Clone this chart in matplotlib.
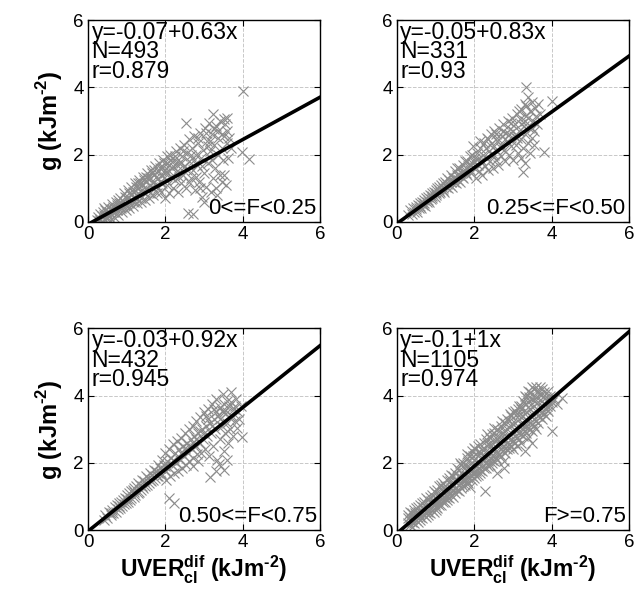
import matplotlib
matplotlib.use("Agg")
import matplotlib.pyplot as plt
import numpy as np

plt.rcParams['font.family'] = ['Liberation Sans', 'DejaVu Sans']
plt.rcParams['mathtext.fontset'] = 'custom'
plt.rcParams['mathtext.rm'] = 'Liberation Sans:bold'
plt.rcParams['mathtext.bf'] = 'Liberation Sans:bold'

# ---- data (x = UVER_cl^dif, y = g) ----
pts_f1 = [
    (0.22, 0.05), (0.25, 0.15), (0.28, 0.02), (0.3, 0.25), (0.32, 0.1), (0.35, 0.18), (0.38, 0.3), (0.4, 0.08),
    (0.42, 0.22), (0.45, 0.35), (0.47, 0.12), (0.5, 0.28), (0.52, 0.45), (0.55, 0.18), (0.57, 0.38), (0.6, 0.25),
    (0.62, 0.52), (0.65, 0.3), (0.67, 0.15), (0.7, 0.45), (0.72, 0.6), (0.75, 0.35), (0.77, 0.22), (0.8, 0.55),
    (0.82, 0.72), (0.85, 0.4), (0.87, 0.3), (0.9, 0.62), (0.92, 0.85), (0.95, 0.5), (0.97, 0.35), (1.0, 0.7),
    (1.02, 0.95), (1.05, 0.55), (1.07, 0.42), (1.1, 0.8), (1.12, 1.05), (1.15, 0.62), (1.17, 0.48), (1.2, 0.9),
    (1.22, 1.15), (1.25, 0.7), (1.27, 0.55), (1.3, 1.0), (1.32, 1.25), (1.35, 0.8), (1.37, 0.6), (1.4, 1.1),
    (1.42, 1.35), (1.45, 0.9), (1.47, 0.65), (1.5, 1.2), (1.52, 1.45), (1.55, 0.95), (1.57, 0.72), (1.6, 1.3),
    (1.62, 1.55), (1.65, 1.05), (1.67, 0.8), (1.7, 1.4), (1.72, 1.65), (1.75, 1.1), (1.78, 0.85), (1.8, 1.5),
    (1.83, 1.75), (1.85, 1.2), (1.88, 0.9), (1.9, 1.6), (1.93, 1.85), (1.95, 1.3), (1.98, 0.7), (2.0, 1.45),
    (2.03, 1.95), (2.05, 1.1), (2.08, 1.7), (2.1, 0.85), (2.13, 2.0), (2.15, 1.35), (2.18, 1.6), (2.2, 1.0),
    (2.23, 1.85), (2.25, 1.25), (2.28, 2.1), (2.3, 1.5), (2.33, 0.9), (2.35, 1.75), (2.38, 2.2), (2.4, 1.15),
    (2.43, 1.95), (2.45, 1.4), (2.48, 2.3), (2.5, 1.65), (2.52, 1.0), (2.55, 2.05), (2.57, 0.28), (2.6, 1.8),
    (2.62, 2.45), (2.65, 1.3), (2.68, 2.2), (2.7, 0.25), (2.72, 1.55), (2.75, 2.55), (2.77, 0.95), (2.8, 2.0),
    (2.82, 1.7), (2.85, 2.35), (2.87, 1.2), (2.9, 2.65), (2.92, 1.9), (2.95, 0.75), (2.97, 2.15), (3.0, 1.45),
    (3.02, 2.8), (3.05, 1.05), (3.07, 2.4), (3.1, 1.75), (3.12, 2.95), (3.15, 2.1), (3.17, 0.9), (3.2, 2.6),
    (3.22, 1.3), (3.24, 3.2), (3.25, 2.3), (3.28, 1.6), (3.3, 2.85), (3.32, 0.8), (3.35, 2.0), (3.37, 2.7),
    (3.4, 1.4), (3.42, 3.0), (3.45, 2.2), (3.48, 1.85), (3.5, 2.55), (3.52, 1.4), (3.55, 2.9), (3.56, 1.1),
    (3.58, 2.35), (3.6, 2.7), (3.62, 1.9), (3.65, 2.5), (3.7, 2.2), (2.53, 2.93), (4.01, 3.9), (4.15, 1.86),
    (3.97, 2.09), (3.3, 1.0), (3.45, 1.2), (3.0, 0.6), (2.9, 1.0),
    (0.3, 0.05), (0.45, 0.05), (0.6, 0.1), (0.55, 0.3), (0.7, 0.3), (0.85, 0.55), (1.0, 0.5), (1.1, 0.65),
    (1.2, 0.75), (1.3, 0.85), (1.4, 0.95), (1.5, 1.0), (1.6, 1.1), (1.7, 1.2), (1.8, 1.3), (1.9, 1.4),
    (2.0, 1.55), (2.1, 1.5), (2.2, 1.65), (2.3, 1.7), (2.4, 1.75), (1.25, 1.05), (1.45, 1.25), (1.65, 1.45),
    (1.85, 1.6), (2.05, 1.75), (0.95, 0.75), (0.65, 0.45), (0.75, 0.5), (1.15, 0.9), (1.35, 1.15), (1.55, 1.3),
    (1.75, 1.35), (1.95, 1.75), (2.25, 1.95), (2.45, 2.1), (2.65, 2.0), (2.85, 2.5), (3.05, 2.65), (3.15, 2.4),
    (3.35, 2.5), (3.25, 2.75), (3.5, 3.05), (3.45, 2.6), (3.6, 3.1),
    (0.4, 0.4), (0.5, 0.15), (0.62, 0.38), (0.78, 0.65), (0.9, 0.45), (1.05, 0.85), (1.18, 0.6), (1.28, 1.15),
    (1.38, 0.72), (1.5, 1.35), (1.6, 0.85), (1.7, 1.55), (1.82, 1.0), (1.92, 1.15), (2.02, 1.25), (2.12, 1.85),
    (2.35, 1.35), (2.55, 1.55), (2.75, 1.85), (2.95, 1.65), (3.1, 2.25), (2.6, 1.2), (2.8, 1.35), (3.2, 1.85),
]

pts_f2 = [
    (0.3, 0.2), (0.35, 0.35), (0.4, 0.25), (0.42, 0.4), (0.45, 0.3), (0.5, 0.45), (0.52, 0.3), (0.55, 0.5),
    (0.58, 0.4), (0.6, 0.55), (0.62, 0.42), (0.65, 0.6), (0.68, 0.5), (0.7, 0.65), (0.72, 0.48), (0.75, 0.7),
    (0.78, 0.58), (0.8, 0.75), (0.82, 0.6), (0.85, 0.8), (0.88, 0.68), (0.9, 0.85), (0.92, 0.7), (0.95, 0.9),
    (0.98, 0.75), (1.0, 0.95), (1.02, 0.8), (1.05, 1.0), (1.08, 0.85), (1.1, 1.05), (1.12, 0.88), (1.15, 1.1),
    (1.18, 0.95), (1.2, 1.15), (1.22, 0.9), (1.25, 1.2), (1.28, 1.05), (1.3, 1.3), (1.32, 1.0), (1.35, 1.25),
    (1.38, 1.1), (1.4, 1.4), (1.42, 1.05), (1.45, 1.3), (1.48, 1.2), (1.5, 1.5), (1.52, 1.15), (1.55, 1.4),
    (1.58, 1.25), (1.6, 1.6), (1.62, 1.2), (1.65, 1.45), (1.68, 1.35), (1.7, 1.7), (1.72, 1.3), (1.75, 1.55),
    (1.78, 1.45), (1.8, 1.8), (1.82, 1.4), (1.85, 1.65), (1.88, 1.55), (1.9, 1.95), (1.92, 1.45), (1.95, 1.75),
    (1.97, 2.25), (2.0, 1.6), (2.02, 1.9), (2.05, 1.3), (2.08, 2.05), (2.1, 1.7), (2.12, 1.5), (2.15, 2.2),
    (2.18, 1.85), (2.2, 1.4), (2.22, 2.0), (2.25, 2.35), (2.28, 1.65), (2.3, 1.9), (2.32, 2.5), (2.35, 1.55),
    (2.38, 2.1), (2.4, 1.8), (2.42, 2.6), (2.45, 2.0), (2.48, 1.6), (2.5, 2.25), (2.52, 2.7), (2.55, 1.85),
    (2.58, 2.4), (2.6, 2.1), (2.62, 1.7), (2.65, 2.8), (2.68, 2.3), (2.7, 1.95), (2.72, 2.55), (2.75, 2.9),
    (2.78, 2.15), (2.8, 1.8), (2.82, 2.65), (2.85, 2.4), (2.88, 3.0), (2.9, 2.0), (2.92, 2.75), (2.95, 2.25),
    (2.98, 3.1), (3.0, 1.85), (3.02, 2.55), (3.05, 2.9), (3.08, 2.3), (3.1, 3.2), (3.12, 2.05), (3.15, 2.7),
    (3.18, 3.05), (3.2, 2.45), (3.22, 3.35), (3.25, 2.2), (3.27, 1.47), (3.28, 2.85), (3.3, 3.5), (3.32, 2.6),
    (3.34, 4.0), (3.35, 3.15), (3.38, 2.35), (3.4, 3.7), (3.42, 2.8), (3.45, 3.3), (3.48, 2.5), (3.5, 3.55),
    (3.52, 3.0), (3.55, 2.7), (3.58, 3.4), (3.6, 3.15), (3.62, 2.9), (3.65, 3.5), (3.7, 3.2), (4.0, 3.6),
    (3.81, 2.07), (3.3, 1.75), (3.2, 1.9), (3.45, 2.05), (3.55, 2.3),
    (0.5, 0.38), (0.6, 0.48), (0.7, 0.56), (0.8, 0.66), (0.9, 0.76), (1.0, 0.85), (1.1, 0.95), (1.2, 1.02),
    (1.3, 1.12), (1.4, 1.2), (1.5, 1.3), (1.6, 1.38), (1.7, 1.5), (1.8, 1.58), (1.9, 1.7), (2.0, 1.78),
    (2.1, 1.88), (2.2, 1.75), (2.3, 2.2), (2.4, 2.3), (2.5, 2.0), (2.6, 2.5), (2.7, 2.2), (2.8, 2.45),
    (2.9, 2.6), (3.0, 2.7), (3.1, 2.5), (3.2, 2.9), (3.3, 3.0), (3.4, 3.1), (3.5, 2.8), (1.55, 1.6),
    (1.75, 1.8), (1.95, 2.0), (2.15, 2.4), (2.35, 2.45), (2.55, 2.6), (2.75, 2.7), (2.95, 2.95), (3.15, 3.3),
    (3.35, 3.45),
]

pts_f3 = [
    (0.4, 0.3), (0.45, 0.45), (0.5, 0.35), (0.55, 0.55), (0.6, 0.45), (0.62, 0.6), (0.65, 0.5), (0.7, 0.7),
    (0.72, 0.55), (0.75, 0.75), (0.78, 0.62), (0.8, 0.8), (0.82, 0.65), (0.85, 0.85), (0.88, 0.72), (0.9, 0.9),
    (0.92, 0.78), (0.95, 0.95), (0.98, 0.8), (1.0, 1.05), (1.02, 0.85), (1.05, 1.1), (1.08, 0.9), (1.1, 1.15),
    (1.12, 0.95), (1.15, 1.2), (1.18, 1.0), (1.2, 1.25), (1.22, 1.05), (1.25, 1.3), (1.28, 1.1), (1.3, 1.4),
    (1.32, 1.12), (1.35, 1.35), (1.38, 1.2), (1.4, 1.5), (1.42, 1.25), (1.45, 1.45), (1.48, 1.3), (1.5, 1.6),
    (1.52, 1.35), (1.55, 1.55), (1.58, 1.4), (1.6, 1.7), (1.62, 1.45), (1.65, 1.65), (1.68, 1.5), (1.7, 1.8),
    (1.72, 1.55), (1.75, 1.75), (1.78, 1.6), (1.8, 1.95), (1.82, 1.6), (1.85, 1.85), (1.88, 1.7), (1.9, 2.1),
    (1.92, 1.65), (1.95, 1.95), (1.98, 1.8), (2.0, 2.3), (2.02, 1.5), (2.05, 2.05), (2.08, 1.85), (2.09, 0.97),
    (2.1, 2.4), (2.12, 1.6), (2.15, 2.15), (2.18, 1.95), (2.2, 2.55), (2.22, 0.82), (2.23, 1.7), (2.25, 2.3),
    (2.28, 2.0), (2.3, 2.65), (2.32, 1.75), (2.35, 2.4), (2.38, 2.1), (2.4, 2.75), (2.42, 1.85), (2.45, 2.5),
    (2.48, 2.2), (2.5, 2.9), (2.52, 1.95), (2.55, 2.6), (2.58, 2.3), (2.6, 3.0), (2.62, 2.05), (2.65, 2.7),
    (2.68, 2.4), (2.7, 3.1), (2.72, 2.15), (2.75, 2.8), (2.78, 2.5), (2.8, 3.25), (2.82, 2.25), (2.85, 2.9),
    (2.88, 2.6), (2.9, 3.35), (2.92, 2.3), (2.95, 3.0), (2.98, 2.7), (3.0, 3.5), (3.02, 2.4), (3.05, 3.1),
    (3.08, 2.8), (3.1, 3.6), (3.12, 2.2), (3.15, 3.2), (3.16, 1.57), (3.18, 2.9), (3.2, 3.75), (3.22, 2.5),
    (3.25, 3.3), (3.28, 3.0), (3.3, 3.9), (3.32, 2.1), (3.35, 3.4), (3.38, 1.97), (3.4, 2.7), (3.42, 3.65),
    (3.45, 3.1), (3.48, 4.05), (3.5, 2.35), (3.52, 3.5), (3.55, 2.9), (3.58, 3.85), (3.6, 3.2), (3.62, 2.6),
    (3.65, 3.7), (3.68, 3.0), (3.7, 4.1), (3.72, 3.4), (3.75, 2.8), (3.78, 3.6), (3.8, 3.25), (3.82, 3.9),
    (3.85, 3.05), (3.88, 3.5), (3.9, 3.3), (3.97, 2.77), (3.95, 3.7), (3.5, 1.8), (3.3, 1.75), (3.6, 2.1),
    (2.7, 1.9), (2.85, 2.05),
    (0.6, 0.52), (0.8, 0.72), (1.0, 0.92), (1.2, 1.12), (1.4, 1.3), (1.6, 1.5), (1.8, 1.7), (2.0, 1.9),
    (2.2, 2.1), (2.4, 2.3), (2.6, 2.5), (2.8, 2.7), (3.0, 2.9), (3.2, 3.1), (3.4, 3.3), (3.6, 3.5),
    (3.8, 3.7), (2.5, 2.45), (2.7, 2.6), (2.9, 2.95), (3.1, 3.3), (3.3, 3.5), (3.5, 3.75), (3.7, 3.8),
    (3.65, 3.35), (3.45, 3.55), (3.25, 3.6), (3.05, 3.4),
]

pts_f4 = [
    (0.30, 0.20), (0.30, 0.45), (0.30, 0.35), (0.35, 0.15), (0.35, 0.40), (0.35, 0.55), (0.40, 0.25), (0.40, 0.50),
    (0.40, 0.10), (0.45, 0.35), (0.45, 0.60), (0.45, 0.20), (0.50, 0.30), (0.50, 0.65), (0.50, 0.45), (0.55, 0.25),
    (0.55, 0.55), (0.55, 0.70), (0.60, 0.40), (0.60, 0.75), (0.60, 0.30), (0.65, 0.50), (0.65, 0.35), (0.65, 0.80),
    (0.70, 0.45), (0.70, 0.85), (0.70, 0.60), (0.75, 0.40), (0.75, 0.70), (0.75, 0.95), (0.80, 0.55), (0.80, 0.90),
    (0.80, 0.45), (0.85, 0.65), (0.85, 1.00), (0.85, 0.50), (0.90, 0.60), (0.90, 1.05), (0.90, 0.80), (0.95, 0.55),
    (0.95, 0.85), (0.95, 1.15), (1.00, 0.70), (1.00, 1.10), (1.00, 0.95), (1.00, 0.60), (1.05, 0.80), (1.05, 1.20),
    (1.05, 0.65), (1.10, 0.75), (1.10, 1.05), (1.10, 1.30), (1.15, 0.90), (1.15, 1.35), (1.15, 0.75), (1.20, 0.85),
    (1.20, 1.15), (1.20, 1.40), (1.20, 1.00), (1.25, 0.95), (1.25, 1.30), (1.25, 0.85), (1.30, 1.00), (1.30, 1.50),
    (1.30, 1.20), (1.30, 0.90), (1.35, 1.10), (1.35, 1.55), (1.35, 0.95), (1.40, 1.05), (1.40, 1.35), (1.40, 1.65),
    (1.40, 1.25), (1.45, 1.15), (1.45, 1.60), (1.45, 1.00), (1.50, 1.25), (1.50, 1.70), (1.50, 1.45), (1.50, 1.10),
    (1.55, 1.20), (1.55, 1.50), (1.55, 1.85), (1.60, 1.35), (1.60, 1.80), (1.60, 1.15), (1.60, 1.60), (1.65, 1.40),
    (1.65, 1.95), (1.65, 1.25), (1.70, 1.30), (1.70, 1.65), (1.70, 2.00), (1.70, 1.50), (1.75, 1.50), (1.75, 1.85),
    (1.75, 1.35), (1.80, 1.45), (1.80, 1.75), (1.80, 2.15), (1.80, 1.60), (1.85, 1.55), (1.85, 2.05), (1.85, 1.40),
    (1.90, 1.27), (1.90, 1.65), (1.90, 2.20), (1.90, 1.85), (1.95, 1.60), (1.95, 2.00), (1.95, 1.50), (1.95, 2.35),
    (2.00, 1.70), (2.00, 2.10), (2.00, 1.55), (2.00, 2.45), (2.05, 1.75), (2.05, 2.25), (2.05, 1.60), (2.10, 1.65),
    (2.10, 2.00), (2.10, 2.50), (2.10, 1.85), (2.15, 1.80), (2.15, 2.30), (2.15, 1.70), (2.15, 2.55), (2.20, 1.90),
    (2.20, 2.40), (2.20, 1.75), (2.20, 2.15), (2.25, 1.85), (2.25, 2.60), (2.25, 2.10), (2.29, 1.17), (2.30, 2.00),
    (2.30, 2.35), (2.30, 1.85), (2.30, 2.70), (2.35, 2.05), (2.35, 2.55), (2.35, 1.90), (2.40, 1.95), (2.40, 2.30),
    (2.40, 2.75), (2.40, 2.15), (2.45, 2.10), (2.45, 2.60), (2.45, 2.00), (2.45, 2.85), (2.50, 2.20), (2.50, 2.45),
    (2.50, 2.05), (2.50, 2.90), (2.55, 2.15), (2.55, 2.65), (2.55, 2.35), (2.60, 2.30), (2.60, 2.80), (2.60, 2.10),
    (2.60, 3.00), (2.65, 2.25), (2.65, 2.55), (2.65, 2.95), (2.70, 2.40), (2.70, 2.75), (2.70, 2.20), (2.70, 3.10),
    (2.76, 1.86), (2.76, 2.05), (2.75, 2.50), (2.75, 2.90), (2.75, 2.35), (2.80, 2.45), (2.80, 2.70), (2.80, 3.20),
    (2.80, 2.30), (2.85, 2.60), (2.85, 3.00), (2.85, 2.40), (2.85, 3.30), (2.90, 2.55), (2.90, 2.85), (2.90, 3.25),
    (2.90, 2.45), (2.95, 2.70), (2.95, 3.10), (2.95, 2.50), (2.95, 3.40), (3.00, 2.65), (3.00, 2.95), (3.00, 3.50),
    (3.00, 2.40), (3.05, 2.80), (3.05, 3.20), (3.05, 2.60), (3.05, 3.55), (3.10, 2.75), (3.10, 3.05), (3.10, 3.45),
    (3.10, 2.50), (3.15, 2.90), (3.15, 3.30), (3.15, 2.70), (3.15, 3.70), (3.20, 2.85), (3.20, 3.15), (3.20, 3.60),
    (3.20, 2.60), (3.25, 3.00), (3.25, 3.40), (3.25, 2.80), (3.25, 3.85), (3.30, 2.95), (3.30, 3.25), (3.30, 3.75),
    (3.30, 2.36), (3.30, 4.00), (3.35, 3.10), (3.35, 3.50), (3.35, 2.90), (3.35, 3.95), (3.40, 3.05), (3.40, 3.35),
    (3.40, 3.80), (3.40, 4.15), (3.40, 2.75), (3.45, 3.20), (3.45, 3.60), (3.45, 3.00), (3.45, 4.10), (3.50, 3.15),
    (3.50, 3.45), (3.50, 3.90), (3.50, 4.25), (3.50, 2.95), (3.55, 3.30), (3.55, 3.70), (3.55, 3.10), (3.55, 4.20),
    (3.60, 3.25), (3.60, 3.55), (3.60, 3.95), (3.60, 4.25), (3.60, 3.00), (3.65, 3.40), (3.65, 3.80), (3.65, 3.20),
    (3.65, 4.15), (3.70, 3.35), (3.70, 3.65), (3.70, 4.05), (3.70, 4.25), (3.75, 3.50), (3.75, 3.85), (3.75, 3.30),
    (3.75, 4.20), (3.80, 3.45), (3.80, 3.75), (3.80, 4.10), (3.85, 3.60), (3.85, 3.95), (3.85, 3.40), (3.90, 3.55),
    (3.90, 3.85), (3.90, 4.15), (3.95, 3.70), (3.95, 4.00), (4.00, 2.95), (4.00, 3.80), (4.05, 3.90), (4.26, 3.94),
    (4.15, 3.75), (3.50, 2.60), (2.60, 1.70),
    (0.38, 0.32), (0.48, 0.52), (0.58, 0.48), (0.68, 0.70), (0.78, 0.58), (0.88, 0.88), (0.98, 0.78), (1.08, 0.95),
    (1.18, 1.25), (1.28, 1.08), (1.38, 1.45), (1.48, 1.35), (1.58, 1.62), (1.68, 1.55), (1.78, 1.95), (1.88, 1.75),
    (1.98, 2.20), (2.08, 1.92), (2.18, 2.30), (2.28, 2.20), (2.38, 2.55), (2.48, 2.35), (2.58, 2.70), (2.68, 2.60),
    (2.78, 2.95), (2.88, 2.75), (2.98, 3.20), (3.08, 2.95), (3.18, 3.45), (3.28, 3.10), (3.38, 3.65), (3.48, 3.35),
    (3.58, 3.85), (3.68, 3.55), (3.78, 3.95), (3.88, 3.70), (3.98, 3.85), (3.62, 4.10), (3.42, 3.95), (3.22, 3.70),
    (2.32, 2.85), (2.52, 3.05), (2.72, 3.25), (2.92, 3.45), (3.12, 3.60), (1.62, 2.00), (1.82, 2.25), (2.02, 2.40),
]

panel_points = [pts_f1, pts_f2, pts_f3, pts_f4]
intercepts = [-0.07, -0.05, -0.03, -0.1]
slopes = [0.63, 0.83, 0.92, 1.0]
fit_labels = ["y=-0.07+0.63x", "y=-0.05+0.83x", "y=-0.03+0.92x", "y=-0.1+1x"]
n_labels = ["N=493", "N=331", "N=432", "N=1105"]
r_labels = ["r=0.879", "r=0.93", "r=0.945", "r=0.974"]
class_labels = ["0<=F<0.25", "0.25<=F<0.50", "0.50<=F<0.75", "F>=0.75"]
ticks = [0, 2, 4, 6]

fig = plt.figure(figsize=(6.38, 6.08), dpi=100)
positions = [
    [0.138, 0.635, 0.364, 0.332],
    [0.622, 0.635, 0.364, 0.332],
    [0.138, 0.128, 0.364, 0.332],
    [0.622, 0.128, 0.364, 0.332],
]

xlab = r'$\mathrm{UVER_{cl}^{dif}}$ (kJm$^{\text{-}2}$)'
ylab = r'g (kJm$^{\text{-}2}$)'

for i, pos in enumerate(positions):
    ax = fig.add_axes(pos)
    xs = np.array([p[0] for p in panel_points[i]])
    ys = np.array([p[1] for p in panel_points[i]])
    ax.plot(xs, ys, linestyle='none', marker='x', markersize=7.3,
            markeredgewidth=0.8, color='#8c8c8c')
    xl = np.array([0, 6])
    ax.plot(xl, intercepts[i] + slopes[i] * xl, color='black', linewidth=2.6)

    ax.set_xlim(0, 6)
    ax.set_ylim(0, 6)
    ax.set_xticks(ticks)
    ax.set_yticks(ticks)
    ax.tick_params(direction='in', labelsize=13.5, length=4, top=True, right=True,
                   pad=3)
    ax.grid(True, linestyle='--', color='#c8c8c8', linewidth=0.7)
    for s in ax.spines.values():
        s.set_linewidth(1.0)

    ax.text(0.015, 0.995, fit_labels[i] + "\n" + n_labels[i] + "\n" + r_labels[i],
            transform=ax.transAxes, ha='left', va='top', fontsize=16.5,
            linespacing=0.8)
    ax.text(0.985, 0.015, class_labels[i], transform=ax.transAxes,
            ha='right', va='bottom', fontsize=16)

    if i % 2 == 0:
        ax.set_ylabel(ylab, fontsize=17, fontweight='bold', labelpad=6)
    if i >= 2:
        ax.set_xlabel(xlab, fontsize=16.5, fontweight='bold', labelpad=2)

fig.savefig("out.png", dpi=100)
